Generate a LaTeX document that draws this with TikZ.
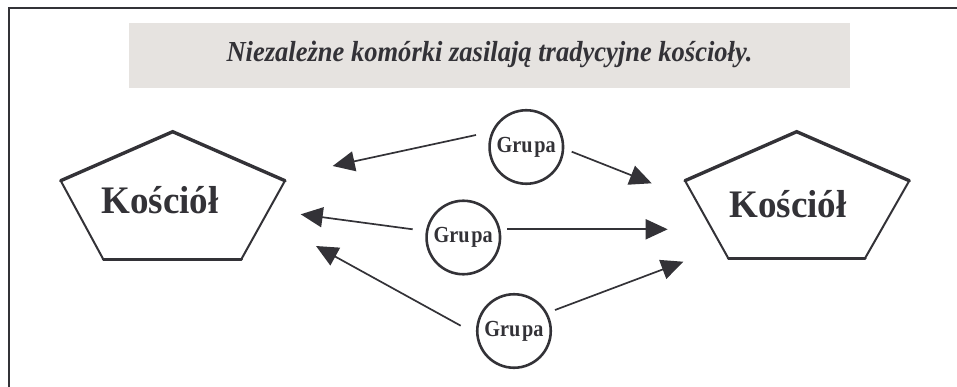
\documentclass[tikz,border=0pt]{standalone}
\usepackage{fontspec}
\setmainfont{Liberation Serif}
\usetikzlibrary{arrows.meta}
\definecolor{ink}{HTML}{333237}
\definecolor{band}{HTML}{E6E3E0}
\tikzset{
  thickedge/.style={draw=ink, line width=3.4pt, line cap=round},
  thinedge/.style={draw=ink, line width=2pt, line cap=round},
  grupa/.style={circle, draw=ink, line width=2.6pt, minimum size=73.5pt, inner sep=0pt,
    font=\bfseries\fontsize{23}{26}\selectfont, text=ink},
  church/.style={anchor=base, font=\bfseries\fontsize{39}{44}\selectfont, text=ink},
  arr/.style={draw=ink, line width=1.7pt, -{Triangle[length=22pt,width=20pt]}}
}
\newcommand{\grp}{\scalebox{0.88}[1]{Gru\kern2pt pa}}
\begin{document}
\begin{tikzpicture}[x=1pt,y=-1pt]
\useasboundingbox (0,0) rectangle (957,387);
% frame
\draw[ink, line width=2pt] (8.5,390) -- (8.5,8.5) -- (960,8.5);
% title band
\fill[band] (129,22.7) rectangle (850,87.7);
\node[anchor=base, font=\bfseries\itshape\fontsize{29}{32}\selectfont, text=ink] (title) at (489.5,61.7) {\scalebox{0.915}[1]{Niezależne komórki zasilają tradycyjne kościoły.}};
% left pentagon
\coordinate (L1) at (172.7,131.7);
\coordinate (L2) at (285,180.7);
\coordinate (L3) at (241.3,259.3);
\coordinate (L4) at (103.3,259.3);
\coordinate (L5) at (60.7,180.7);
\draw[thickedge] (L5) -- (L1) -- (L2);
\draw[thinedge] (L2) -- (L3);
\draw[thinedge] (L4) -- (L5);
\draw[thickedge, line width=3pt] (L3) -- (L4);
\node[church] (kl) at (160,214) {\scalebox{0.95}[1]{Kościół}};
% right pentagon
\coordinate (R1) at (796.7,131.7);
\coordinate (R2) at (909.3,180.7);
\coordinate (R3) at (865,258.3);
\coordinate (R4) at (728.3,258.3);
\coordinate (R5) at (685,180.7);
\draw[thickedge] (R5) -- (R1) -- (R2);
\draw[thinedge] (R2) -- (R3);
\draw[thinedge] (R4) -- (R5);
\draw[thickedge, line width=3pt] (R3) -- (R4);
\node[church] (kr) at (788,218) {\scalebox{0.95}[1]{Kościół}};
% groups
\node[grupa] (g1) at (526.3,147) {\grp};
\node[grupa] (g2) at (463.3,237.5) {\grp};
\node[grupa] (g3) at (514,331) {\grp};
% arrow ends
\coordinate (s1) at (476,135);   \coordinate (t1) at (332.7,166);
\coordinate (s2) at (571.7,151.7); \coordinate (t2) at (651.7,183.3);
\coordinate (s3) at (412.7,229.3); \coordinate (t3) at (300.7,214.3);
\coordinate (s4) at (507.3,229.3); \coordinate (t4) at (667.7,229.3);
\coordinate (s5) at (460.7,325.7); \coordinate (t5) at (316,246);
\coordinate (s6) at (555,310);   \coordinate (t6) at (683.3,261.7);
\draw[arr] (s1) -- (t1);
\draw[arr] (s2) -- (t2);
\draw[arr] (s3) -- (t3);
\draw[arr] (s4) -- (t4);
\draw[arr] (s5) -- (t5);
\draw[arr] (s6) -- (t6);
\end{tikzpicture}
\end{document}
